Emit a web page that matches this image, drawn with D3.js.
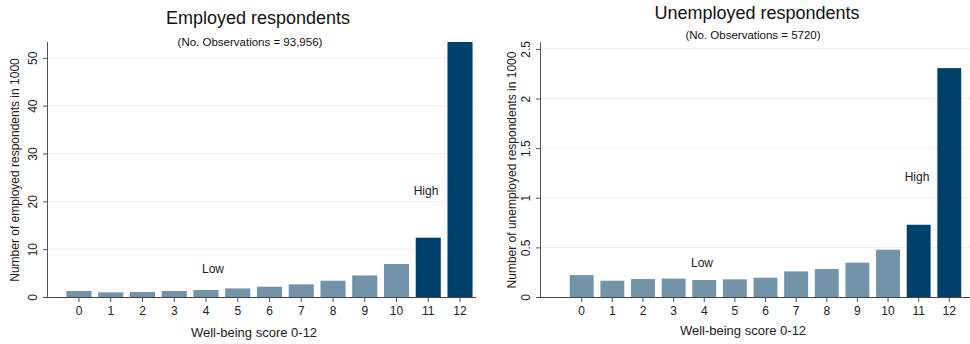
<!DOCTYPE html>
<html><head><meta charset="utf-8">
<script src="https://cdn.jsdelivr.net/npm/d3@7"></script>
<style>body{margin:0;background:#fff}svg{display:block;font-family:"Liberation Sans",Arial,sans-serif}</style>
</head><body>
<svg id="c" width="970" height="344"></svg>
<script>
const scores = ["0","1","2","3","4","5","6","7","8","9","10","11","12"];
const employed = [1.25,0.97,1.04,1.25,1.46,1.8,2.15,2.64,3.4,4.5,6.9,12.4,53.3];
const unemployed = [0.221,0.164,0.181,0.185,0.171,0.178,0.195,0.258,0.282,0.346,0.477,0.728,2.307];
const employedTicks = [0,10,20,30,40,50];
const unemployedTicks = [0,0.5,1,1.5,2,2.5];
const highScores = ["11","12"];

const svg = d3.select("#c");
const light = "#7393a9", dark = "#00416b";

function panel(o){
  const g = svg.append("g");
  const x = d3.scaleBand().domain(scores).range(o.xr).paddingInner(o.pad).paddingOuter(o.pad/2);
  const y = d3.scaleLinear().domain([0,o.ymax]).range([297,42]);
  g.selectAll(".grid").data(o.ticks.filter(t=>t>0)).join("line")
    .attr("x1",o.axisX).attr("x2",o.plotR).attr("y1",d=>y(d)).attr("y2",d=>y(d))
    .attr("stroke","#e6f0f2").attr("stroke-width",1);
  g.selectAll(".bar").data(o.values).join("rect")
    .attr("x",(d,i)=>x(scores[i])).attr("width",x.bandwidth())
    .attr("y",d=>y(d)).attr("height",d=>y(0)-y(d))
    .attr("fill",(d,i)=>highScores.includes(scores[i])?dark:light);
  const ya = d3.axisLeft(y).tickValues(o.ticks).tickSize(5).tickFormat(d=>d3.format("~g")(d));
  const yg = g.append("g").attr("transform",`translate(${o.axisX},0)`).call(ya);
  yg.select(".domain").attr("stroke","#555").attr("d",`M-0.5,${y(0)}V42`);
  yg.selectAll(".tick line").attr("stroke","#555");
  yg.selectAll(".tick text").attr("transform","rotate(-90)").attr("x",0).attr("y",-11)
    .attr("dy","0").attr("text-anchor","middle").attr("font-size",12).attr("fill","#222");
  const xa = d3.axisBottom(x).tickSize(5).tickSizeOuter(0);
  const xg = g.append("g").attr("transform",`translate(0,${y(0)})`).call(xa);
  xg.select(".domain").attr("stroke","#444").attr("d",`M${o.axisX},0.5H${o.plotR}`);
  xg.selectAll(".tick line").attr("stroke","#555");
  xg.selectAll(".tick text").attr("font-size",12).attr("fill","#222").attr("y",9);
  g.append("text").attr("x",o.tx).attr("y",o.ty).attr("text-anchor","middle")
    .attr("font-size",18).attr("fill","#111").text(o.title);
  g.append("text").attr("x",o.sx).attr("y",o.sy).attr("text-anchor","middle")
    .attr("font-size",11.5).attr("fill","#111").text(o.sub);
  g.append("text").attr("x",o.xtx).attr("y",o.xty).attr("text-anchor","middle")
    .attr("font-size",13).attr("fill","#222").text("Well-being score 0-12");
  g.append("text").attr("transform",`translate(${o.ytx},170) rotate(-90)`).attr("text-anchor","middle")
    .attr("font-size",12).attr("fill","#222").text(o.ytitle);
  g.append("text").attr("x",o.low[0]).attr("y",o.low[1]).attr("text-anchor","middle")
    .attr("font-size",12).attr("fill","#222").text("Low");
  g.append("text").attr("x",o.high[0]).attr("y",o.high[1]).attr("text-anchor","middle")
    .attr("font-size",12).attr("fill","#222").text("High");
}

panel({xr:[63.1,475.9],pad:0.21,ymax:53.3,values:employed,ticks:employedTicks,axisX:48,plotR:476,
  title:"Employed respondents",tx:258,ty:24,sub:"(No. Observations = 93,956)",sx:250,sy:46,
  xtx:254,xty:337,ytx:19,ytitle:"Number of employed respondents in 1000",low:[213,273],high:[426,195]});
panel({xr:[566.4,964.6],pad:0.22,ymax:2.57,values:unemployed,ticks:unemployedTicks,axisX:541,plotR:970,
  title:"Unemployed respondents",tx:757,ty:19,sub:"(No. Observations = 5720)",sx:753,sy:39,
  xtx:743,xty:335,ytx:516,ytitle:"Number of unemployed respondents in 1000",low:[702,267],high:[917,181]});
</script>
</body></html>
